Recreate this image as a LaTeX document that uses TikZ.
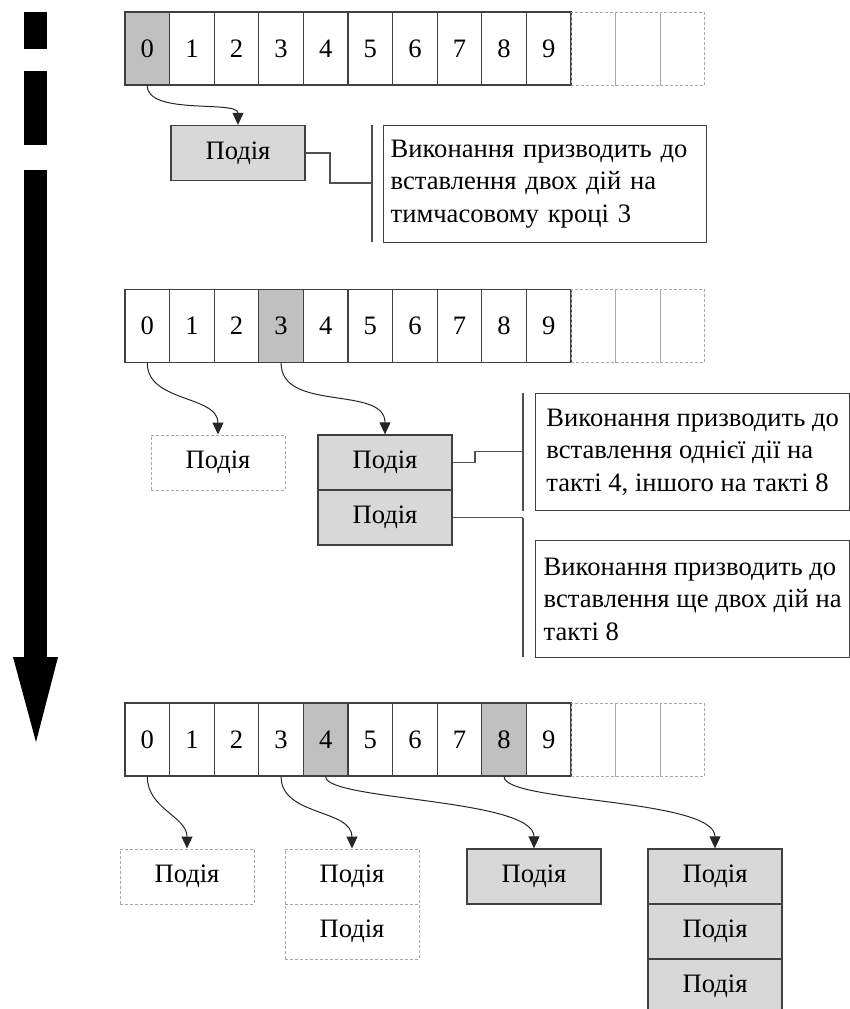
\documentclass[tikz,border=0pt]{standalone}
\usepackage{fontspec}
\setmainfont{Liberation Serif}
\usetikzlibrary{arrows.meta,calc}
\definecolor{hl}{HTML}{C0C0C0}
\definecolor{evfill}{HTML}{D8D8D8}
\definecolor{edge}{HTML}{404040}
\definecolor{ghost}{HTML}{A8A8A8}
\definecolor{leadc}{HTML}{505050}

\begin{document}
\begin{tikzpicture}[x=1pt,y=-1pt,
  every node/.style={font=\fontsize{26.6}{32.5}\selectfont},
  cell/.style={draw=edge, line width=1.3pt, minimum width=44.6pt, minimum height=73pt, inner sep=0pt},
  ghostcell/.style={draw=ghost, dash pattern=on 3pt off 2pt, line width=1pt, minimum width=44.6pt, minimum height=73pt, inner sep=0pt},
  ev/.style={draw=edge, fill=evfill, line width=1.3pt, minimum width=134pt, minimum height=55pt, inner sep=0pt},
  ghostev/.style={draw=ghost, dash pattern=on 3pt off 2pt, line width=1pt, minimum width=134pt, minimum height=55pt, inner sep=0pt},
  note/.style={draw=edge, line width=1.3pt, anchor=north west, align=left, inner xsep=7pt, minimum height=117pt},
  flow/.style={-{Triangle[length=12pt,width=11pt]}, line width=1pt, black!85},
  lead/.style={draw=leadc, line width=1.2pt},
  bracket/.style={draw=leadc, line width=1.2pt},
]
\useasboundingbox (0,0) rectangle (850,1009);

% time axis: dashed black arrow on the left
\fill (24,12) rectangle (47,49);
\fill (24,71) rectangle (47,145);
\fill (24,170) rectangle (47,658);
\fill (13,657) -- (58,657) -- (36,742) -- cycle;

% ---------- step 1 ----------
\foreach \i/\f in {0/hl,1/white,2/white,3/white,4/white,5/white,6/white,7/white,8/white,9/white}
  \node[cell,fill=\f] (a\i) at ({147.3+44.6*\i},48.5) {\i};
\foreach \j in {10,11,12}
  \node[ghostcell] (a\j) at ({147.3+44.6*\j},48.5) {};

\node[ev] (e1) at (238,153) {Подія};
\node[note, text width=309pt] (n1) at (383,125)
  {Виконання призводить до\\вставлення двох дій на\\тимчасовому кроці 3};
\coordinate (k1t) at (372,125);
\coordinate (k1b) at (372,242);
\coordinate (k1) at (372,183);
\draw[bracket] (k1t) -- (k1b);
\draw[lead] (e1.east) -- (330,153) -- (330,183) -- (k1);
\draw[flow] (a0.south) .. controls +(0,30) and +(0,-25) .. (e1.north);

% ---------- step 2 ----------
\foreach \i/\f in {0/white,1/white,2/white,3/hl,4/white,5/white,6/white,7/white,8/white,9/white}
  \node[cell,fill=\f] (b\i) at ({147.3+44.6*\i},326) {\i};
\foreach \j in {10,11,12}
  \node[ghostcell] (b\j) at ({147.3+44.6*\j},326) {};

\node[ghostev] (g2) at (218,462.5) {Подія};
\node[ev] (e2a) at (385,462.5) {Подія};
\node[ev] (e2b) at (385,517.5) {Подія};

\node[note, minimum width=314pt, inner xsep=4pt] (n2) at (535,393)
  {Виконання призводить до\\вставлення однієї дії на\\такті 4, іншого на такті 8};
\node[note, minimum width=314pt, inner xsep=4pt] (n3) at (535,540)
  {Виконання призводить до\\вставлення ще двох дій на\\такті 8};
\coordinate (k2t) at (523,393);
\coordinate (k2b) at (523,511);
\coordinate (k2) at (523,451.5);
\coordinate (k3t) at (523,517.5);
\coordinate (k3b) at (523,657);
\draw[bracket] (k2t) -- (k2b);
\draw[bracket] (k3t) -- (k3b);
\draw[lead] (e2a.east) -- (475,462.5) -- (475,451.5) -- (k2);
\draw[lead] (e2b.east) -- (k3t);

\draw[flow] (b0.south) to[out=-90,in=90] (g2.north);
\draw[flow] (b3.south) to[out=-90,in=90] (e2a.north);

% ---------- step 3 ----------
\foreach \i/\f in {0/white,1/white,2/white,3/white,4/hl,5/white,6/white,7/white,8/hl,9/white}
  \node[cell,fill=\f] (c\i) at ({147.3+44.6*\i},739.5) {\i};
\foreach \j in {10,11,12}
  \node[ghostcell] (c\j) at ({147.3+44.6*\j},739.5) {};

\node[ghostev] (g3) at (187,876.5) {Подія};
\node[ghostev] (g4a) at (352,876.5) {Подія};
\node[ghostev] (g4b) at (352,931.5) {Подія};
\node[ev] (e3) at (534,876.5) {Подія};
\node[ev] (e4a) at (715,876.5) {Подія};
\node[ev] (e4b) at (715,931.5) {Подія};
\node[ev] (e4c) at (715,986.5) {Подія};

\draw[flow] (c0.south) to[out=-90,in=90] (g3.north);
\draw[flow] (c3.south) to[out=-90,in=90] (g4a.north);
\draw[flow] (c4.south) .. controls +(0,24) and +(0,-50) .. (e3.north);
\draw[flow] (c8.south) .. controls +(0,26) and +(0,-50) .. (e4a.north);
\end{tikzpicture}
\end{document}
